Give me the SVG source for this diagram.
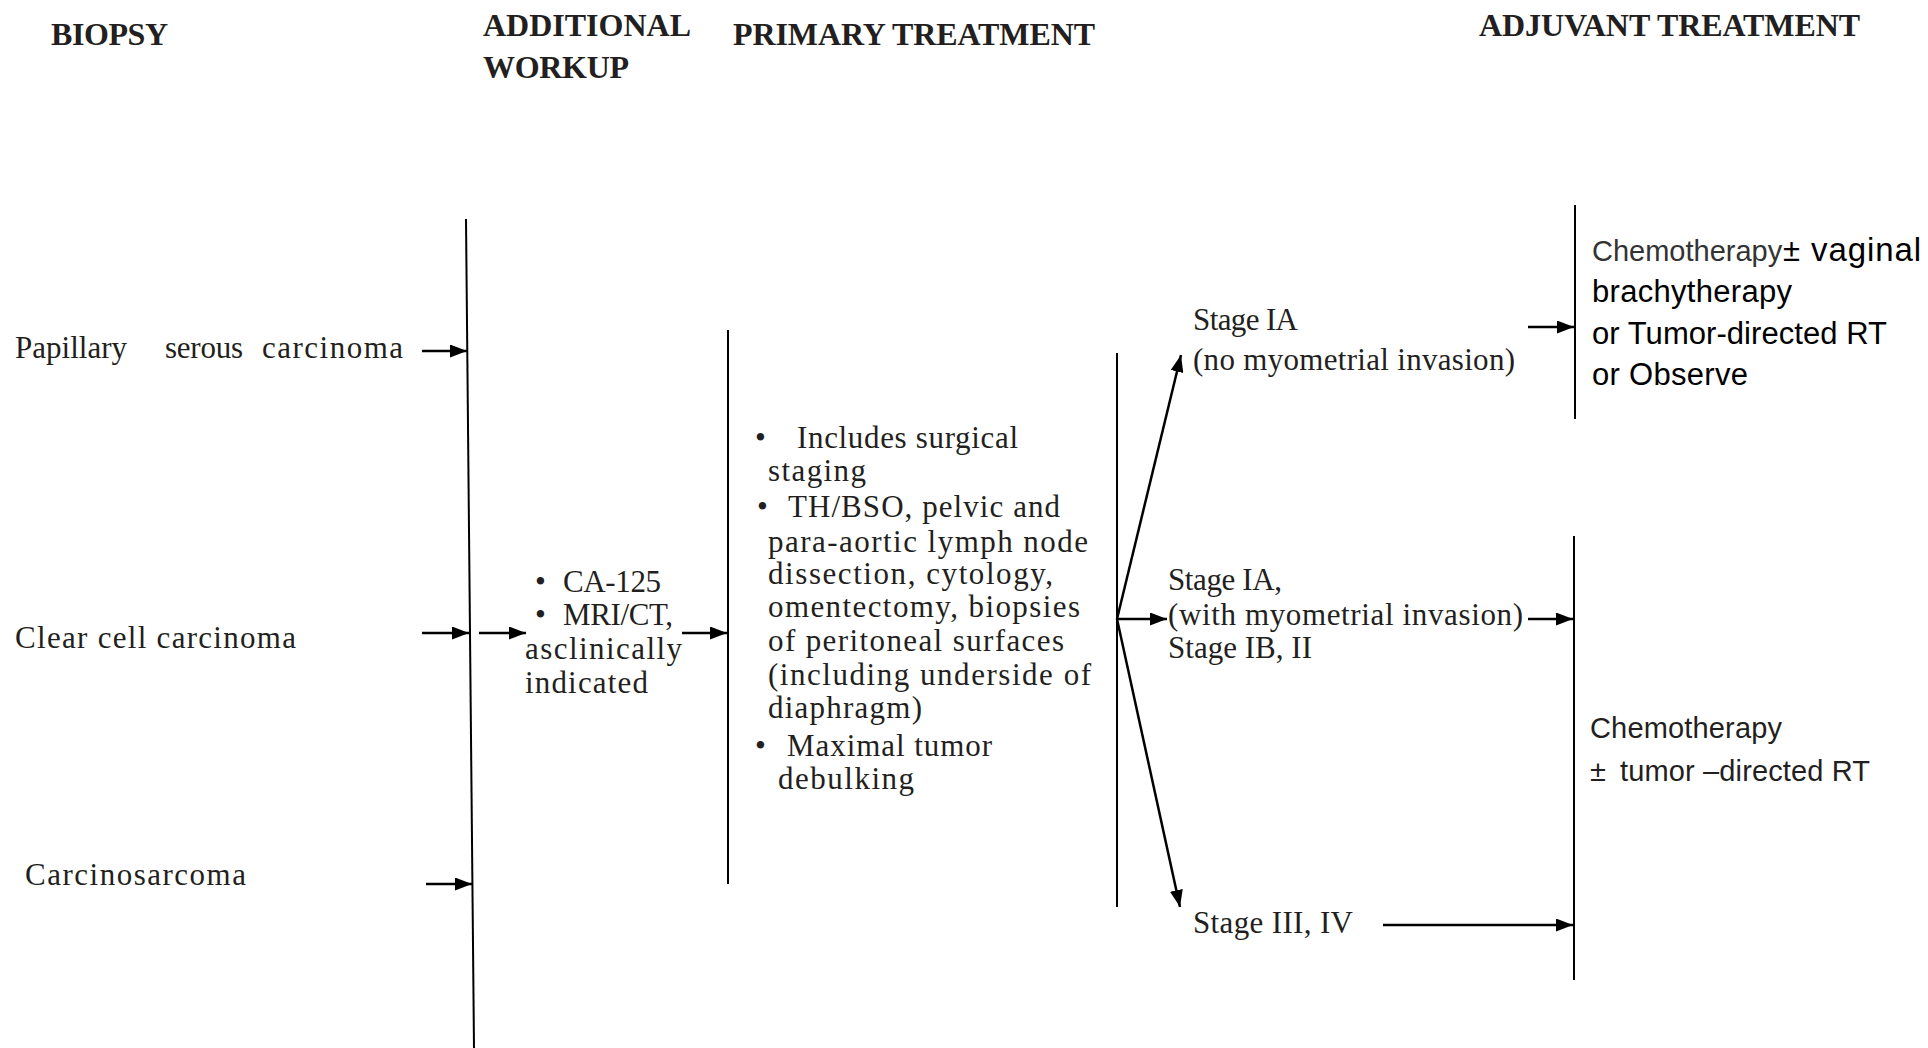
<svg xmlns="http://www.w3.org/2000/svg" width="1928" height="1048" viewBox="0 0 1928 1048">
  <defs>
    <style>
      .head { font-family: "Liberation Serif", "Times New Roman", serif; font-weight: bold; font-size: 32px; fill: #231f20; }
      .serif { font-family: "Liberation Serif", "Times New Roman", serif; font-size: 31px; fill: #231f20; }
      .sans { font-family: "Liberation Sans", Arial, sans-serif; font-size: 31px; fill: #000; }
      .sans-lg { font-family: "Liberation Sans", Arial, sans-serif; font-size: 33px; fill: #000; }
      .sans-sm { font-family: "Liberation Sans", Arial, sans-serif; font-size: 29px; fill: #231f20; }
      .sans-grey { font-family: "Liberation Sans", Arial, sans-serif; font-size: 29px; fill: #333; }
      .bar { stroke: #000; stroke-width: 2; fill: none; }
      .conn { stroke: #000; stroke-width: 2.5; fill: none; marker-end: url(#ah); }
    </style>
    <marker id="ah" markerUnits="userSpaceOnUse" markerWidth="17" markerHeight="13" refX="17" refY="6.5" orient="auto">
      <path d="M0,0 L17,6.5 L0,13 z" fill="#000"/>
    </marker>
  </defs>

  <rect width="1928" height="1048" fill="#fff"/>

  <!-- column headings -->
  <g id="headings">
    <text class="head" x="51" y="45" textLength="117">BIOPSY</text>
    <text class="head" x="483" y="36" textLength="208">ADDITIONAL</text>
    <text class="head" x="483" y="78" textLength="146">WORKUP</text>
    <text class="head" x="733" y="45" textLength="362">PRIMARY TREATMENT</text>
    <text class="head" x="1479" y="36" textLength="381">ADJUVANT TREATMENT</text>
  </g>

  <!-- biopsy results -->
  <g id="biopsy-papillary">
    <text class="serif" x="15" y="358" textLength="112">Papillary</text>
    <text class="serif" x="165" y="358" textLength="78">serous</text>
    <text class="serif" x="262" y="358" textLength="141">carcinoma</text>
  </g>
  <g id="biopsy-clear-cell">
    <text class="serif" x="15" y="648" textLength="281">Clear cell carcinoma</text>
  </g>
  <g id="biopsy-carcinosarcoma">
    <text class="serif" x="25" y="885" textLength="221">Carcinosarcoma</text>
  </g>

  <!-- additional workup -->
  <g id="workup">
    <text class="serif" x="535" y="592">•</text>
    <text class="serif" x="563" y="592" textLength="98">CA-125</text>
    <text class="serif" x="535" y="625">•</text>
    <text class="serif" x="563" y="625" textLength="110">MRI/CT,</text>
    <text class="serif" x="525" y="659" textLength="157">asclinically</text>
    <text class="serif" x="525" y="693" textLength="123">indicated</text>
  </g>

  <!-- primary treatment -->
  <g id="primary-treatment">
    <text class="serif" x="755" y="448">•</text>
    <text class="serif" x="797" y="448" textLength="221">Includes surgical</text>
    <text class="serif" x="768" y="481" textLength="98">staging</text>
    <text class="serif" x="757" y="517">•</text>
    <text class="serif" x="788" y="517" textLength="272">TH/BSO, pelvic  and</text>
    <text class="serif" x="768" y="552" textLength="320">para-aortic lymph  node</text>
    <text class="serif" x="768" y="584" textLength="285">dissection, cytology,</text>
    <text class="serif" x="768" y="617" textLength="312">omentectomy, biopsies</text>
    <text class="serif" x="768" y="651" textLength="296">of peritoneal surfaces</text>
    <text class="serif" x="768" y="685" textLength="323">(including underside of</text>
    <text class="serif" x="768" y="718" textLength="154">diaphragm)</text>
    <text class="serif" x="755" y="756">•</text>
    <text class="serif" x="787" y="756" textLength="205">Maximal  tumor</text>
    <text class="serif" x="778" y="789" textLength="136">debulking</text>
  </g>

  <!-- surgical stage -->
  <g id="stage-ia-no-invasion">
    <text class="serif" x="1193" y="330" textLength="105">Stage IA</text>
    <text class="serif" x="1193" y="370" textLength="322">(no myometrial invasion)</text>
  </g>
  <g id="stage-ia-ib-ii">
    <text class="serif" x="1168" y="590" textLength="114">Stage IA,</text>
    <text class="serif" x="1168" y="625" textLength="355">(with myometrial invasion)</text>
    <text class="serif" x="1168" y="658" textLength="144">Stage IB, II</text>
  </g>
  <g id="stage-iii-iv">
    <text class="serif" x="1193" y="933" textLength="160">Stage III, IV</text>
  </g>

  <!-- adjuvant treatment -->
  <g id="adjuvant-early">
    <text class="sans-grey" x="1592" y="261">Chemotherapy</text>
    <text class="sans" x="1783" y="261">±</text>
    <text class="sans-lg" x="1811" y="261" textLength="110">vaginal</text>
    <text class="sans" x="1592" y="302" textLength="200">brachytherapy</text>
    <text class="sans" x="1592" y="344" textLength="295">or Tumor-directed RT</text>
    <text class="sans" x="1592" y="385" textLength="156">or Observe</text>
  </g>
  <g id="adjuvant-advanced">
    <text class="sans-sm" x="1590" y="738" textLength="192">Chemotherapy</text>
    <text class="sans-sm" x="1590" y="781">±</text>
    <text class="sans-sm" x="1620" y="781" textLength="250">tumor –directed RT</text>
  </g>

  <!-- vertical collector bars -->
  <g id="bars">
    <line class="bar" x1="466" y1="219" x2="474" y2="1048"/>
    <line class="bar" x1="728" y1="330" x2="728" y2="884"/>
    <line class="bar" x1="1117" y1="353" x2="1117" y2="907"/>
    <line class="bar" x1="1575" y1="205" x2="1575" y2="419"/>
    <line class="bar" x1="1574" y1="536" x2="1574" y2="980"/>
  </g>

  <!-- arrows -->
  <g id="connectors">
    <path class="conn" d="M422,351 L467,351"/>
    <path class="conn" d="M422,633 L469,633"/>
    <path class="conn" d="M479,633 L526,633"/>
    <path class="conn" d="M682,633 L727,633"/>
    <path class="conn" d="M426,884 L472,884"/>
    <path class="conn" d="M1117,619 L1181,355"/>
    <path class="conn" d="M1117,619 L1167,619"/>
    <path class="conn" d="M1117,619 L1180,907"/>
    <path class="conn" d="M1528,327 L1574,327"/>
    <path class="conn" d="M1528,619 L1573,619"/>
    <path class="conn" d="M1383,925 L1573,925"/>
  </g>
</svg>
